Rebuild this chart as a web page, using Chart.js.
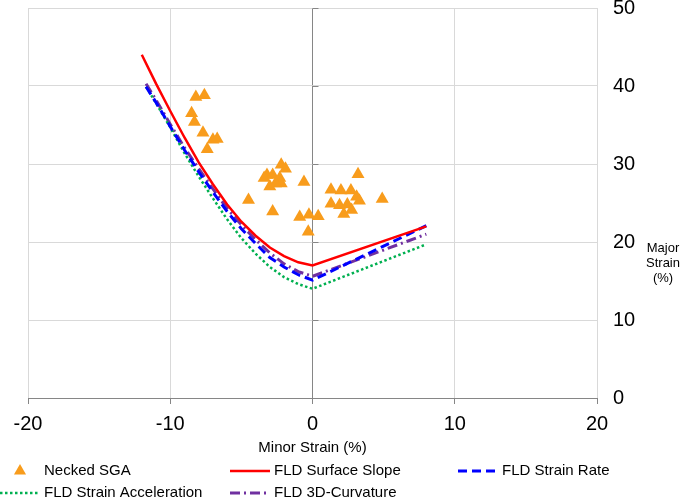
<!DOCTYPE html>
<html>
<head>
<meta charset="utf-8">
<title>Forming Limit Diagram</title>
<script src="https://cdn.jsdelivr.net/npm/chart.js@4.4.1/dist/chart.umd.min.js"></script>
<style>
  html, body { margin: 0; padding: 0; background: #fff; }
  .chart-container { position: relative; width: 685px; height: 499px; }
</style>
</head>
<body>
<div class="chart-container"><canvas id="fldChart"></canvas></div>
<script>
// necked specimens (SGA measurements)
const sgaMinor = [-8.2, -7.6, -8.5, -8.3, -7.7, -7.0, -6.7, -7.4,
    -2.2, -1.9, -3.2, -2.8, -2.3, -3.0, -2.2, -2.6, -0.6, -4.5, -2.8, -0.9, -0.25, 0.4, -0.3, -3.4,
    3.2, 1.3, 2.0, 2.7, 3.1, 3.3, 4.9, 1.3, 1.9, 2.45, 2.2, 2.75];
const sgaMajor = [38.6, 38.8, 36.5, 35.4, 34.0, 33.1, 33.2, 31.9,
    29.9, 29.4, 28.6, 28.6, 28.2, 27.1, 27.5, 27.5, 27.7, 25.4, 23.9, 23.2, 23.5, 23.3, 21.3, 28.2,
    28.7, 26.7, 26.6, 26.6, 25.8, 25.3, 25.5, 24.9, 24.7, 24.8, 23.6, 24.1];

// FLD curves
const slopeMinor = [-12, -11, -10, -9, -8, -7, -6, -5, -4, -3, -2, -1, 0, 8];
const slopeMajor = [44.0, 40.3, 36.8, 33.4, 30.2, 27.4, 24.8, 22.6, 20.8, 19.3, 18.2, 17.4, 17.0, 22.0];

const rateMinor = [-11.7, -11, -10, -9, -8, -7, -6, -5, -4, -3, -2, -1, 0, 8];
const rateMajor = [39.9, 37.9, 34.8, 31.8, 29.0, 26.4, 23.9, 21.7, 19.8, 18.0, 16.8, 15.8, 15.1, 22.1];

const accelMinor = [-11.7, -11, -10, -9, -8, -7, -6, -5, -4, -3, -2, -1, 0, 8];
const accelMajor = [39.9, 37.8, 34.7, 31.4, 28.4, 25.6, 22.9, 20.5, 18.5, 16.8, 15.5, 14.6, 14.0, 19.7];

const curvMinor = [-11.7, -11, -10, -9, -8, -7, -6, -5, -4, -3, -2, -1, 0, 8];
const curvMajor = [40.3, 38.2, 35.1, 32.1, 29.4, 26.8, 24.3, 22.2, 20.3, 18.6, 17.2, 16.2, 15.6, 21.0];

const minorTicks = [-20, -10, 0, 10, 20];
const majorTicks = [0, 10, 20, 30, 40, 50];

const FONT = "'Liberation Sans', Arial, sans-serif";
Chart.defaults.font.family = FONT;
Chart.defaults.color = '#000';

function toPoints(xs, ys) {
    return xs.map((x, i) => ({ x: x, y: ys[i] }));
}

function lineSet(label, xs, ys, color, width, dash) {
    return {
        label: label,
        data: toPoints(xs, ys),
        showLine: true,
        fill: false,
        tension: 0,
        pointRadius: 0,
        pointHoverRadius: 0,
        borderColor: color,
        backgroundColor: color,
        borderWidth: width,
        borderDash: dash
    };
}

// legend in two rows / three columns, plus the y title and the ticks on the x=0 axis
const fldExtras = {
    id: 'fldExtras',
    afterDatasetsDraw(chart) {
        const ctx = chart.ctx;
        const xs = chart.scales.x;
        const ys = chart.scales.y;
        const x0 = xs.getPixelForValue(0);
        ctx.save();
        ctx.strokeStyle = '#868686';
        ctx.lineWidth = 1;
        majorTicks.forEach(v => {
            const py = Math.round(ys.getPixelForValue(v)) + 0.5;
            ctx.beginPath();
            ctx.moveTo(x0, py);
            ctx.lineTo(x0 + 6, py);
            ctx.stroke();
        });
        ctx.restore();
    },
    afterDraw(chart) {
        const ctx = chart.ctx;
        const cols = [0, 230, 458];
        const rows = [471, 493];
        ctx.save();
        ctx.font = '15px ' + FONT;
        ctx.fillStyle = '#000';
        ctx.textBaseline = 'middle';
        ctx.textAlign = 'left';
        chart.data.datasets.forEach((ds, i) => {
            const lx = cols[i % 3];
            const ly = rows[Math.floor(i / 3)];
            if (ds.showLine === false) {
                const cx = lx + 20, r = 7;
                ctx.fillStyle = ds.backgroundColor;
                ctx.beginPath();
                ctx.moveTo(cx, ly - r);
                ctx.lineTo(cx + r * 0.866, ly + r * 0.5);
                ctx.lineTo(cx - r * 0.866, ly + r * 0.5);
                ctx.closePath();
                ctx.fill();
            } else {
                ctx.strokeStyle = ds.borderColor;
                ctx.lineWidth = ds.borderWidth;
                ctx.setLineDash(ds.borderDash || []);
                ctx.beginPath();
                ctx.moveTo(lx, ly);
                ctx.lineTo(lx + 40, ly);
                ctx.stroke();
                ctx.setLineDash([]);
            }
            ctx.fillStyle = '#000';
            ctx.fillText(ds.label, lx + 44, ly);
        });

        // y-axis title, stacked on three lines
        ctx.font = '13px ' + FONT;
        ctx.textAlign = 'center';
        const tx = 663;
        const ty = chart.scales.y.getPixelForValue(20);
        ['Major', 'Strain', '(%)'].forEach((t, k) => {
            ctx.fillText(t, tx, ty + 6 + k * 15);
        });
        ctx.restore();
    }
};

const ctx = document.getElementById('fldChart').getContext('2d');
window.fldChart = new Chart(ctx, {
    type: 'scatter',
    data: {
        datasets: [
            {
                label: 'Necked SGA',
                data: toPoints(sgaMinor, sgaMajor),
                showLine: false,
                pointStyle: 'triangle',
                pointRadius: 7.5,
                pointHoverRadius: 7.5,
                backgroundColor: '#F89C1C',
                borderColor: '#F89C1C',
                borderWidth: 0
            },
            lineSet('FLD Surface Slope', slopeMinor, slopeMajor, '#FF0000', 2.5, []),
            lineSet('FLD Strain Rate', rateMinor, rateMajor, '#0000FF', 3, [9, 5]),
            lineSet('FLD Strain Acceleration', accelMinor, accelMajor, '#00B050', 2.5, [2.5, 2.5]),
            lineSet('FLD 3D-Curvature', curvMinor, curvMajor, '#7030A0', 3, [10, 4, 2, 4])
        ]
    },
    options: {
        responsive: true,
        maintainAspectRatio: false,
        animation: false,
        layout: { padding: { left: 28, top: 8, right: 0, bottom: 42 } },
        plugins: {
            legend: { display: false },
            tooltip: { enabled: false }
        },
        scales: {
            x: {
                type: 'linear',
                min: -20,
                max: 20,
                afterBuildTicks: scale => { scale.ticks = minorTicks.map(v => ({ value: v })); },
                ticks: { color: '#000', font: { size: 20 }, padding: 8, maxRotation: 0 },
                grid: {
                    color: c => (c.tick && c.tick.value === 0) ? '#868686' : '#D9D9D9',
                    tickColor: '#868686',
                    tickLength: 6
                },
                border: { color: '#868686' },
                title: {
                    display: true,
                    text: 'Minor Strain (%)',
                    color: '#000',
                    font: { size: 15 },
                    padding: { top: 0, bottom: 0 }
                },
                afterFit: scale => { scale.height = 59; }
            },
            y: {
                position: 'right',
                min: 0,
                max: 50,
                afterBuildTicks: scale => { scale.ticks = majorTicks.map(v => ({ value: v })); },
                ticks: { color: '#000', font: { size: 20, lineHeight: 0.8 }, padding: 16 },
                grid: { color: '#D9D9D9', drawTicks: false, tickLength: 0 },
                border: { display: false },
                afterFit: scale => {
                    scale.width = 88;
                    scale.paddingTop = 8;
                    scale.paddingBottom = 0;
                }
            }
        }
    },
    plugins: [fldExtras]
});
</script>
</body>
</html>
